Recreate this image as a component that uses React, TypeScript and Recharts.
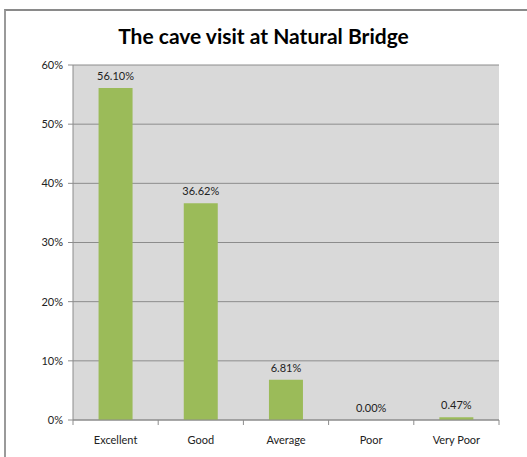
import { BarChart, Bar, XAxis, YAxis, CartesianGrid, LabelList } from 'recharts';

const categories = ['Excellent', 'Good', 'Average', 'Poor', 'Very Poor'];
const shares = [56.1, 36.62, 6.81, 0.0, 0.47];
const yTicks = [0, 10, 20, 30, 40, 50, 60];

const data = categories.map((name, i) => ({ name, value: shares[i] }));

const FONT = 'Lato, "Open Sans", sans-serif';
const AXIS = '#8c8c8c';
const TICK_SIZE = 6;
const TICK_MARGIN = 10;

// category label plus Excel-style tick marks between the categories
function CategoryTick(props: any) {
  const { x, y, payload, width, visibleTicksCount, index } = props;
  const band = width / visibleTicksCount;
  const axisY = y - TICK_SIZE - TICK_MARGIN;
  return (
    <g>
      <line x1={x - band / 2} x2={x - band / 2} y1={axisY} y2={axisY + 5} stroke={AXIS} />
      {index === visibleTicksCount - 1 && (
        <line x1={x + band / 2} x2={x + band / 2} y1={axisY} y2={axisY + 5} stroke={AXIS} />
      )}
      <text x={x} y={y} dy="0.71em" textAnchor="middle" fill="#222" fontSize={11} fontFamily={FONT}>
        {payload.value}
      </text>
    </g>
  );
}

export default function App() {
  return (
    <div style={{ position: 'absolute', left: 0, top: 0, width: 527, height: 457, background: '#fff' }}>
      {/* chart frame, only left and top edges show in the crop */}
      <div
        style={{
          position: 'absolute',
          left: 4,
          top: 9,
          width: 523,
          height: 448,
          borderLeft: '2px solid #9a9a9a',
          borderTop: '2px solid #8a8a8a',
        }}
      />
      <div
        style={{
          position: 'absolute',
          left: 0,
          top: 23,
          width: 527,
          textAlign: 'center',
          fontFamily: FONT,
          fontWeight: 700,
          fontSize: 21,
          color: '#000',
          paddingRight: 4,
        }}
      >
        The cave visit at Natural Bridge
      </div>
      <BarChart
        width={527}
        height={457}
        data={data}
        margin={{ top: 65, right: 28, left: 0, bottom: 0 }}
        barCategoryGap="30%"
        style={{ position: 'absolute', left: 0, top: 0 }}
      >
        <CartesianGrid horizontal vertical={false} stroke={AXIS} fill="#d9d9d9" />
        <XAxis
          dataKey="name"
          height={37}
          tickLine={false}
          tickSize={TICK_SIZE}
          tickMargin={TICK_MARGIN}
          axisLine={{ stroke: AXIS }}
          interval={0}
          tick={<CategoryTick />}
        />
        <YAxis
          width={73}
          domain={[0, 60]}
          ticks={yTicks}
          tickFormatter={(v) => `${v}%`}
          tickSize={5}
          tickMargin={5}
          stroke={AXIS}
          tick={{ fill: '#222', fontSize: 11, fontFamily: FONT }}
        />
        <Bar dataKey="value" fill="#9bbb59" minPointSize={0.01} isAnimationActive={false}>
          <LabelList
            dataKey="value"
            position="top"
            offset={8}
            formatter={(v: number) => `${Number(v).toFixed(2)}%`}
            style={{ fill: '#222', fontSize: 11, fontFamily: FONT }}
          />
        </Bar>
      </BarChart>
    </div>
  );
}
